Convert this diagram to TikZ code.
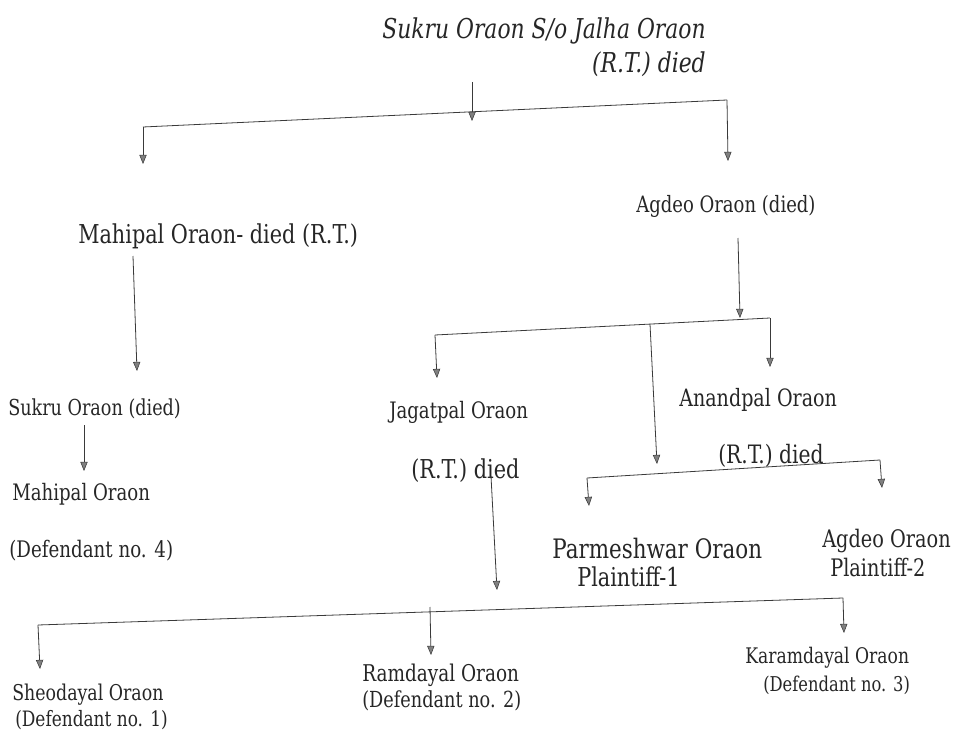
\documentclass[tikz,border=0pt]{standalone}
\usepackage{fontspec}
\setmainfont{DejaVu Serif}[FakeStretch=0.8]
\usetikzlibrary{arrows.meta,positioning,calc}
\definecolor{inkGray}{HTML}{3A3A3A}
\definecolor{tipGray}{HTML}{808080}

\begin{document}
\begin{tikzpicture}[x=0.75pt,y=-0.75pt,
  person/.style={inner sep=0pt,anchor=west,text=black!85,font=\fontsize{#1}{#1}\selectfont},
  person/.default=16,
  link/.style={draw=inkGray,line width=0.6pt},
  down/.style={link,-{Triangle[length=2.4mm,width=1.9mm,color=inkGray,fill=tipGray,line width=0.4pt]}}]
  \useasboundingbox (0,0) rectangle (957,738);
  % generation 0
  \node[inner sep=0pt,anchor=north east,align=right,text=black!85,font=\itshape\fontsize{20.5}{26}\selectfont] (S0) at (706,17) {Sukru Oraon S/o Jalha Oraon\\(R.T.) died};
  % generation 1
  \node[person=19.5] (M1) at (78,236) {Mahipal Oraon- died (R.T.)};
  \node[person=16.9] (A1) at (636,206) {Agdeo Oraon (died)};
  % generation 2
  \node[person=16.5] (S2) at (8,409) {Sukru Oraon (died)};
  \node[person=17] (J2) at (389,412) {Jagatpal Oraon};
  \node[person=19.5] (J2rt) at (411,471) {(R.T.) died};
  \node[person=17.9] (N2) at (679,400) {Anandpal Oraon};
  \node[person=19] (N2rt) at (718,456) {(R.T.) died};
  % generation 3
  \node[person=17] (M3) at (12,494) {Mahipal Oraon};
  \node[person=17.1] (M3d) at (9,551) {(Defendant no. 4)};
  \node[person=20.1] (P3) at (552,549) {Parmeshwar Oraon};
  \node[person=19.5] (P3d) at (577,577) {Plaintiff-1};
  \node[person=18.1] (A3) at (822,541) {Agdeo Oraon};
  \node[person=18.1] (A3d) at (830,567) {Plaintiff-2};
  \node[person=16.3] (Sh3) at (12,695) {Sheodayal Oraon};
  \node[person=15.9] (Sh3d) at (15,720) {(Defendant no. 1)};
  \node[person=17.3] (R3) at (362,675) {Ramdayal Oraon};
  \node[person=16.6] (R3d) at (362,701) {(Defendant no. 2)};
  \node[person=16.1] (K3) at (745,658) {Karamdayal Oraon};
  \node[person=15.3] (K3d) at (763,685) {(Defendant no. 3)};
  % bars
  \coordinate (b1w) at (143,127); \coordinate (b1e) at (727,100);
  \coordinate (b2w) at (435,335); \coordinate (b2m) at (650,324); \coordinate (b2e) at (770,318);
  \coordinate (b3w) at (587,478); \coordinate (b3e) at (880,460);
  \coordinate (b4w) at (38,625); \coordinate (b4m) at (430,607); \coordinate (b4e) at (843,598);
  \draw[link] (b1w) -- (b1e);
  \draw[link] (b2w) -- (b2e);
  \draw[link] (b3w) -- (b3e);
  \draw[link] (b4w) -- (b4e);
  % arrows
  \coordinate (s0b) at (472,82); \coordinate (m1b) at (133,256);
  \coordinate (s2b) at (84,425); \coordinate (a1b) at (738,238);
  \coordinate (j2b) at (491,476);
  \draw[down] (s0b) -- (472,121);
  \draw[down] (b1w) -- ++(0,37);
  \draw[down] (b1e) -- ++(1,61);
  \draw[down] (m1b) -- (137,371);
  \draw[down] (s2b) -- (84,471);
  \draw[down] (a1b) -- (740,318);
  \draw[down] (b2w) -- ++(2,43);
  \draw[down] (b2e) -- ++(0,49);
  \draw[down] (b2m) -- (657,464);
  \draw[down] (j2b) -- (497,590);
  \draw[down] (b3w) -- ++(2,28);
  \draw[down] (b3e) -- ++(2,28);
  \draw[down] (b4w) -- ++(2,44);
  \draw[down] (b4m) -- ++(1,48);
  \draw[down] (b4e) -- ++(1,35);
\end{tikzpicture}
\end{document}
